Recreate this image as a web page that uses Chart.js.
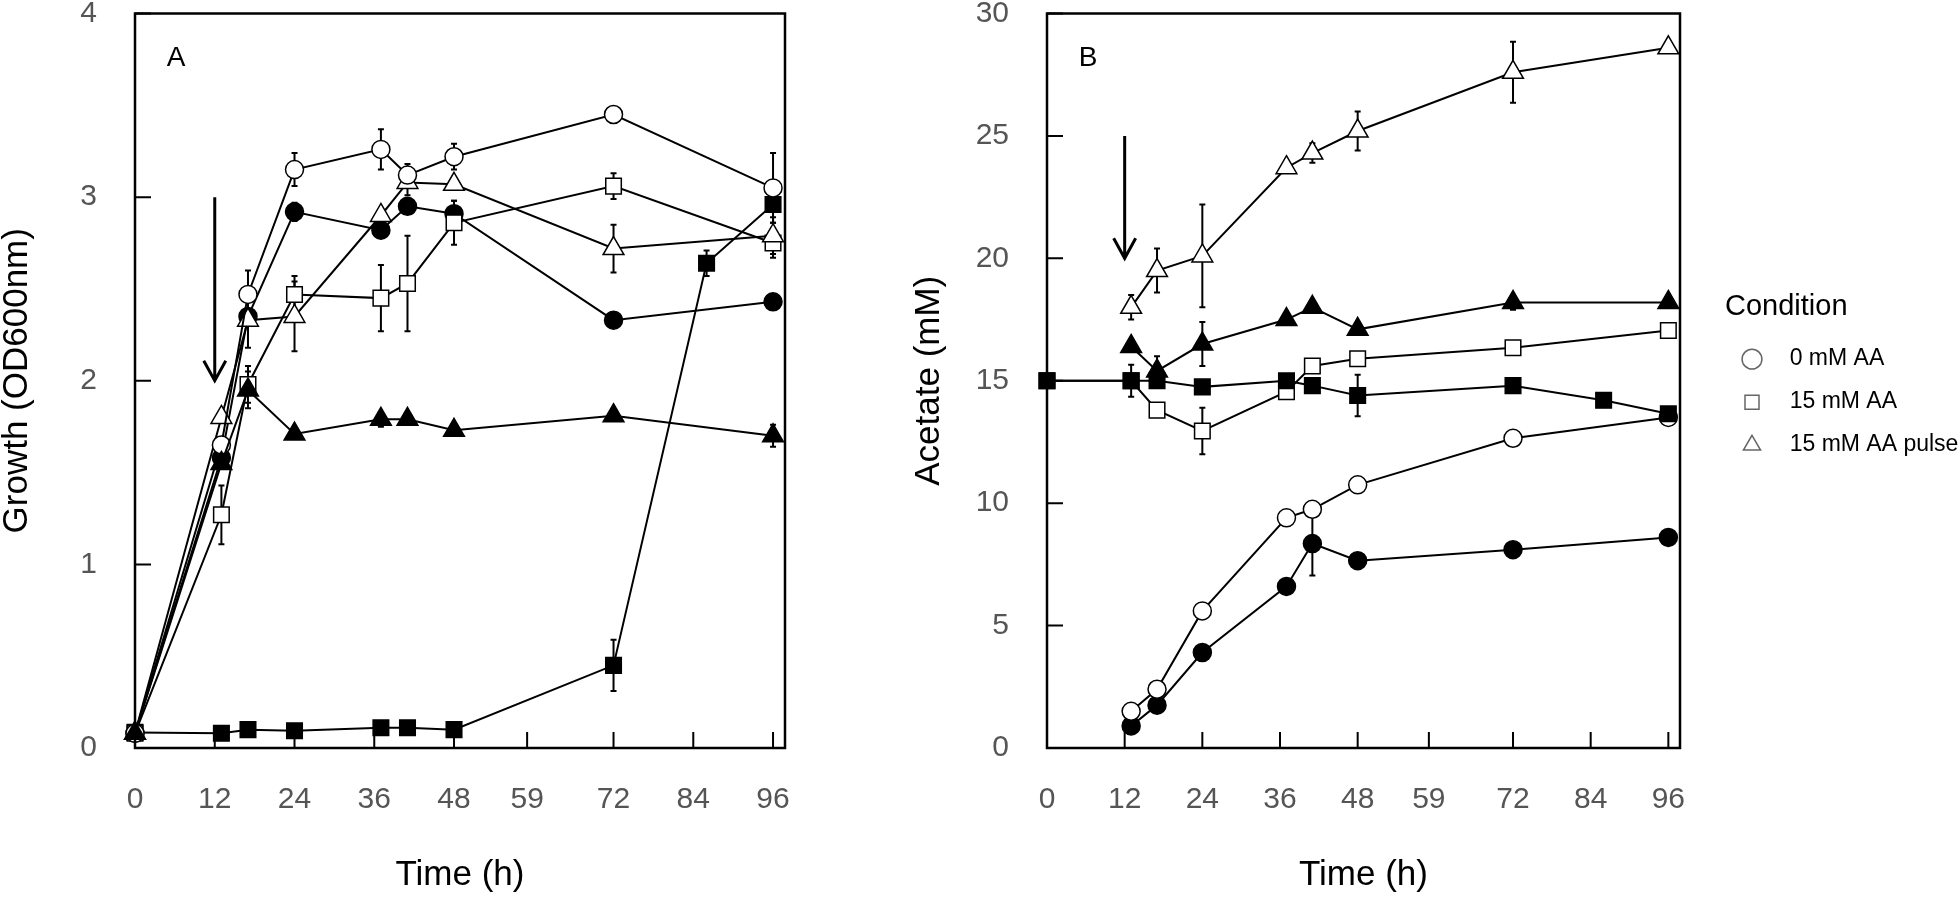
<!DOCTYPE html>
<html>
<head>
<meta charset="utf-8">
<script src="https://cdn.jsdelivr.net/npm/chart.js@4.4.1/dist/chart.umd.min.js"></script>
<style>
  body { margin: 0; background: #fff; }
  #wrap { position: relative; width: 1960px; height: 898px; }
  #chartA { position: absolute; left: 0; top: 0; }
  #chartB { position: absolute; left: 900px; top: 0; }
</style>
</head>
<body>
<div id="wrap">
  <canvas id="chartA" width="820" height="898"></canvas>
  <canvas id="chartB" width="1060" height="898"></canvas>
</div>
<script>
// ---- data ----
const timeTicks = [0, 12, 24, 36, 48, 59, 72, 84, 96];
const growthTicks = [0, 1, 2, 3, 4];
const acetateTicks = [0, 5, 10, 15, 20, 25, 30];

// panel A : growth (OD600nm)
const tA = [0, 13, 17, 24, 37, 41, 48, 72, 96];
const tA_fsq = [0, 13, 17, 24, 37, 41, 48, 72, 86, 96];
const circleOpenA = [0.08, 1.65, 2.47, 3.15, 3.26, 3.12, 3.22, 3.45, 3.05];
const circleOpenA_err = [0, 0, 0.13, 0.09, 0.11, 0.06, 0.07, 0, 0.19];
const circleFilledA = [0.08, 1.58, 2.35, 2.92, 2.82, 2.95, 2.91, 2.33, 2.43];
const circleFilledA_err = [0, 0.06, 0, 0.05, 0, 0, 0.07, 0, 0];
const squareOpenA = [0.08, 1.27, 1.98, 2.47, 2.45, 2.53, 2.86, 3.06, 2.75];
const squareOpenA_err = [0, 0.16, 0.1, 0.1, 0.18, 0.26, 0.12, 0.07, 0.08];
const squareFilledA = [0.085, 0.08, 0.1, 0.094, 0.11, 0.11, 0.1, 0.45, 2.64, 2.96];
const squareFilledA_err = [0, 0, 0, 0, 0, 0, 0, 0.14, 0.07, 0.1];
const triOpenA = [0.08, 1.8, 2.33, 2.35, 2.9, 3.08, 3.07, 2.72, 2.79];
const triOpenA_err = [0, 0, 0.15, 0.19, 0, 0.07, 0, 0.13, 0.1];
const triFilledA = [0.08, 1.55, 1.95, 1.71, 1.79, 1.79, 1.73, 1.81, 1.7];
const triFilledA_err = [0, 0, 0.1, 0, 0.04, 0, 0, 0, 0.06];

// panel B : acetate (mM)
const tB = [13, 17, 24, 37, 41, 48, 72, 96];
const tB_osq = [0, 13, 17, 24, 37, 41, 48, 72, 96];
const tB_fsq = [0, 13, 17, 24, 37, 41, 48, 72, 86, 96];
const circleOpenB = [1.5, 2.4, 5.6, 9.4, 9.75, 10.75, 12.65, 13.5];
const circleOpenB_err = [0, 0, 0, 0, 0, 0, 0, 0];
const circleFilledB = [0.9, 1.75, 3.9, 6.6, 8.35, 7.65, 8.1, 8.6];
const circleFilledB_err = [0, 0, 0, 0, 1.3, 0, 0, 0];
const squareOpenB = [15.0, 15.0, 13.8, 12.95, 14.55, 15.6, 15.9, 16.35, 17.05];
const squareOpenB_err = [0, 0, 0, 0.95, 0.2, 0, 0, 0, 0];
const squareFilledB = [15.0, 15.0, 15.0, 14.75, 15.0, 14.8, 14.4, 14.8, 14.2, 13.65];
const squareFilledB_err = [0, 0.65, 0, 0, 0, 0, 0.85, 0, 0, 0];
const triOpenB = [18.0, 19.5, 20.1, 23.7, 24.3, 25.2, 27.6, 28.6];
const triOpenB_err = [0.5, 0.9, 2.1, 0, 0.4, 0.8, 1.25, 0];
const triFilledB = [16.4, 15.4, 16.5, 17.5, 18.0, 17.1, 18.2, 18.2];
const triFilledB_err = [0, 0.6, 0.9, 0, 0, 0, 0.3, 0];

const legendNames = ['0 mM AA', '15 mM AA', '15 mM AA pulse'];
const legendStyles = ['circle', 'rect', 'triangle'];

const FONT = "'Liberation Sans', Arial, sans-serif";

function pts(t, v) { return t.map((x, i) => ({ x: x, y: v[i] })); }

function series(t, v, err, style, filled) {
  const r = style === 'circle' ? 9 : (style === 'rect' ? 11 : 12);
  return {
    data: pts(t, v),
    err: err,
    showLine: true,
    borderColor: '#000',
    borderWidth: 2,
    tension: 0,
    fill: false,
    clip: false,
    pointStyle: style,
    pointRadius: r,
    pointBorderWidth: 1.5,
    pointBorderColor: '#000',
    pointBackgroundColor: filled ? '#000' : '#fff'
  };
}

// frame, inward ticks, error bars, arrow, panel letter
const deco = {
  id: 'deco',
  beforeDatasetsDraw(chart) {
    const ctx = chart.ctx;
    const ys = chart.scales.y;
    ctx.save();
    ctx.strokeStyle = '#000';
    ctx.lineWidth = 2;
    chart.data.datasets.forEach((ds, i) => {
      const meta = chart.getDatasetMeta(i);
      ds.data.forEach((p, j) => {
        const e = ds.err[j];
        if (!e) return;
        const px = meta.data[j].x;
        const top = ys.getPixelForValue(p.y + e);
        const bot = ys.getPixelForValue(p.y - e);
        ctx.beginPath();
        ctx.moveTo(px, top); ctx.lineTo(px, bot);
        ctx.moveTo(px - 3, top); ctx.lineTo(px + 3, top);
        ctx.moveTo(px - 3, bot); ctx.lineTo(px + 3, bot);
        ctx.stroke();
      });
    });
    ctx.restore();
  },
  afterDraw(chart, args, opts) {
    const ctx = chart.ctx;
    const ca = chart.chartArea;
    const xs = chart.scales.x, ys = chart.scales.y;
    ctx.save();
    ctx.strokeStyle = '#000';
    // ticks pointing inwards
    ctx.lineWidth = 2;
    ctx.beginPath();
    xs.ticks.forEach(t => {
      const px = xs.getPixelForValue(t.value);
      ctx.moveTo(px, ca.bottom); ctx.lineTo(px, ca.bottom - 16);
    });
    ys.ticks.forEach(t => {
      const py = ys.getPixelForValue(t.value);
      ctx.moveTo(ca.left, py); ctx.lineTo(ca.left + 16, py);
    });
    ctx.stroke();
    // frame
    ctx.lineWidth = 2.5;
    ctx.strokeRect(ca.left, ca.top, ca.right - ca.left, ca.bottom - ca.top);
    // arrow
    const ax = xs.getPixelForValue(opts.arrow[0]);
    const ay1 = ys.getPixelForValue(opts.arrow[1]);
    const ay2 = ys.getPixelForValue(opts.arrow[2]);
    ctx.lineWidth = 3;
    ctx.beginPath();
    ctx.moveTo(ax, ay1); ctx.lineTo(ax, ay2);
    ctx.moveTo(ax - 11, ay2 - 20); ctx.lineTo(ax, ay2); ctx.lineTo(ax + 11, ay2 - 20);
    ctx.stroke();
    // panel letter
    ctx.fillStyle = '#000';
    ctx.font = '28px ' + FONT;
    ctx.textAlign = 'center';
    ctx.textBaseline = 'middle';
    ctx.fillText(opts.letter, ca.left + 41, ca.top + 45);
    ctx.restore();
  }
};

// move the legend block to the right, away from the plot frame
const legendShift = {
  id: 'legendShift',
  afterLayout(chart) {
    const lg = chart.legend;
    if (lg) {
      lg.left += 45;
      lg.right = chart.width;
      lg.width = lg.right - lg.left;
    }
  }
};

function makeScales(yMax, yTicks, yTitle, yTitlePad, yWidth) {
  return {
    x: {
      type: 'linear', min: 0, max: 97.8,
      afterBuildTicks: s => { s.ticks = timeTicks.map(v => ({ value: v })); },
      afterFit: s => { s.height = 150; s.paddingLeft = 0; s.paddingRight = 0; },
      grid: { display: false, drawTicks: false },
      border: { display: false },
      ticks: { autoSkip: false, maxRotation: 0, padding: 34, color: '#555', font: { size: 30, family: FONT } },
      title: { display: true, text: 'Time (h)', color: '#000', font: { size: 35, family: FONT, lineHeight: 1 }, padding: { top: 0, bottom: 5 } }
    },
    y: {
      type: 'linear', min: 0, max: yMax,
      afterBuildTicks: s => { s.ticks = yTicks.map(v => ({ value: v })); },
      afterFit: s => { s.width = yWidth; s.paddingTop = 0; s.paddingBottom = 0; },
      grid: { display: false, drawTicks: false },
      border: { display: false },
      ticks: { padding: 38, color: '#555', font: { size: 30, family: FONT } },
      title: { display: true, text: yTitle, color: '#000', font: { size: 35, family: FONT, lineHeight: 1 }, padding: { top: yTitlePad, bottom: 0 } }
    }
  };
}

new Chart(document.getElementById('chartA').getContext('2d'), {
  type: 'scatter',
  data: {
    datasets: [
      series(tA, triFilledA, triFilledA_err, 'triangle', true),
      series(tA, circleOpenA, circleOpenA_err, 'circle', false),
      series(tA, triOpenA, triOpenA_err, 'triangle', false),
      series(tA, squareOpenA, squareOpenA_err, 'rect', false),
      series(tA, circleFilledA, circleFilledA_err, 'circle', true),
      series(tA_fsq, squareFilledA, squareFilledA_err, 'rect', true)
    ]
  },
  options: {
    responsive: false,
    animation: false,
    devicePixelRatio: 1,
    layout: { padding: { top: 12, right: 35, bottom: 0, left: 0 } },
    scales: makeScales(4, growthTicks, 'Growth (OD600nm)', 0, 135),
    plugins: {
      legend: { display: false },
      tooltip: { enabled: false },
      deco: { letter: 'A', arrow: [12, 3.0, 2.0] }
    }
  },
  plugins: [deco]
});

new Chart(document.getElementById('chartB').getContext('2d'), {
  type: 'scatter',
  data: {
    datasets: [
      series(tB_fsq, squareFilledB, squareFilledB_err, 'rect', true),
      series(tB, circleOpenB, circleOpenB_err, 'circle', false),
      series(tB, triOpenB, triOpenB_err, 'triangle', false),
      series(tB_osq, squareOpenB, squareOpenB_err, 'rect', false),
      series(tB, circleFilledB, circleFilledB_err, 'circle', true),
      series(tB, triFilledB, triFilledB_err, 'triangle', true)
    ]
  },
  options: {
    responsive: false,
    animation: false,
    devicePixelRatio: 1,
    layout: { padding: { top: 12, right: 80, bottom: 0, left: 0 } },
    scales: makeScales(30, acetateTicks, 'Acetate (mM)', 12, 147),
    plugins: {
      tooltip: { enabled: false },
      deco: { letter: 'B', arrow: [12, 25, 20] },
      legend: {
        position: 'right',
        fullSize: false,
        maxWidth: 200,
        title: { display: true, text: 'Condition', position: 'start', color: '#000', font: { size: 29, family: FONT }, padding: { top: 8, bottom: 0 } },
        labels: {
          usePointStyle: true,
          boxWidth: 14,
          boxHeight: 14,
          padding: 20,
          color: '#000',
          font: { size: 23, family: FONT },
          generateLabels: () => legendNames.map((name, i) => ({
            text: '   ' + name,
            pointStyle: legendStyles[i],
            fillStyle: '#fff',
            strokeStyle: '#666',
            lineWidth: 1.5,
            hidden: false,
            datasetIndex: i
          }))
        }
      }
    }
  },
  plugins: [deco, legendShift]
});
</script>
</body>
</html>
